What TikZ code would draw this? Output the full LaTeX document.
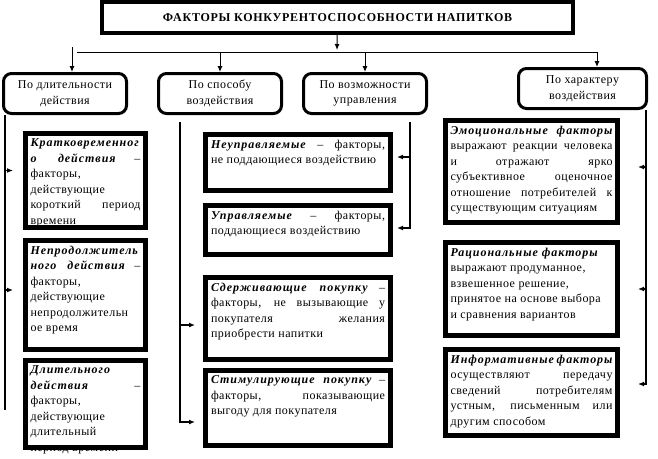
\documentclass[tikz,border=0pt]{standalone}
\usepackage{fontspec}
\setmainfont{Liberation Serif}[LetterSpace=4]
\usetikzlibrary{arrows.meta}
\newcommand{\ftext}[3]{\parbox[c][#2pt][t]{#1pt}{\hyphenpenalty=10000 #3}}
\newcommand{\bi}[1]{{\bfseries\itshape\addfontfeature{LetterSpace=8}#1}}

\begin{document}
\begin{tikzpicture}[x=1pt,y=-1pt,
  >={Latex[length=6pt,width=5pt]}, font=\fontsize{12}{15.5}\selectfont,
  title/.style={draw,line width=3.5pt,minimum width=471pt,minimum height=31pt,inner sep=0pt,font=\fontsize{12}{15}\selectfont\bfseries\addfontfeature{LetterSpace=6}},
  group/.style={draw,line width=3pt,rounded corners=8pt,minimum width=123pt,minimum height=40pt,align=center,inner sep=0pt},
  factor/.style={draw,line width=5pt,inner sep=0pt},
  link/.style={line width=1pt},
  trunk/.style={line width=1.8pt},
]
\useasboundingbox (0,0) rectangle (658,458);

\node[title] (head) at (337.5,17.5) {ФАКТОРЫ КОНКУРЕНТОСПОСОБНОСТИ НАПИТКОВ};

\node[group] (dur)  at (65,93.5)  {По длительности\\действия};
\node[group] (way)  at (220,93.5) {По способу\\воздействия};
\node[group] (ctl)  at (365,93.5) {По возможности\\управления};
\node[group,minimum width=128pt] (kind) at (582.5,88.5) {По характеру\\воздействия};

\node[factor,minimum width=120pt,minimum height=94pt] (shortterm) at (85.5,180.5)
  {\ftext{110}{83}{\bi{Кратковременног}\linebreak \bi{о действия} –\linebreak факторы,\\ действующие\\ короткий период\linebreak времени}};
\node[factor,minimum width=120pt,minimum height=109pt] (midterm) at (85.5,295)
  {\ftext{110}{98}{\bi{Непродолжитель}\linebreak \bi{ного действия} –\linebreak факторы,\\ действующие\\ непродолжительн\\ ое время}};
\node[factor,minimum width=120pt,minimum height=87pt] (longterm) at (85.5,404)
  {\ftext{110}{76}{\bi{Длительного}\\ \bi{действия} –\linebreak факторы,\\ действующие\\ длительный\\ период времени}};

\node[factor,minimum width=185pt,minimum height=56pt] (unmanaged) at (298,162.5)
  {\ftext{174}{45}{\bi{Неуправляемые} – факторы,\linebreak не поддающиеся воздействию}};
\node[factor,minimum width=185pt,minimum height=49pt] (managed) at (298,230)
  {\ftext{174}{38}{\bi{Управляемые} – факторы,\linebreak поддающиеся воздействию}};
\node[factor,minimum width=185pt,minimum height=82pt] (restrain) at (298,318.5)
  {\ftext{174}{71}{\bi{Сдерживающие покупку} –\linebreak факторы, не вызывающие у\linebreak покупателя желания\linebreak приобрести напитки}};
\node[factor,minimum width=185pt,minimum height=75pt] (stimul) at (298,408)
  {\ftext{174}{64}{\bi{Стимулирующие покупку} –\linebreak факторы, показывающие\linebreak выгоду для покупателя}};

\node[factor,minimum width=172pt,minimum height=102pt] (emotion) at (531.5,171.5)
  {\ftext{162}{91}{\bi{Эмоциональные факторы}\linebreak выражают реакции человека\linebreak и отражают ярко\linebreak субъективное оценочное\linebreak отношение потребителей к\linebreak существующим ситуациям}};
\node[factor,minimum width=172pt,minimum height=93pt] (rational) at (531.5,289)
  {\ftext{162}{82}{\bi{Рациональные факторы}\\ выражают продуманное,\\ взвешенное решение,\\ принятое на основе выбора\\ и сравнения вариантов}};
\node[factor,minimum width=172pt,minimum height=86pt] (inform) at (531.5,392.5)
  {\ftext{162}{75}{\bi{Информативные факторы}\linebreak осуществляют передачу\linebreak сведений потребителям\linebreak устным, письменным или\linebreak другим способом}};

\coordinate (hub)  at (337,50);
\coordinate (busL) at (77,52);
\coordinate (busR) at (597,52);
\coordinate (drop) at (72,47);
\coordinate (t1) at (5,410);
\coordinate (t2) at (180,122);
\coordinate (t3) at (410,122);
\coordinate (t4) at (646,110);

\draw[link,->] (head) -- (hub);
\draw[link] (busL) -- (busR);
\draw[link,->] (drop) -- (drop |- dur.north);
\draw[link,->] (way.north |- busL) -- (way.north);
\draw[link,->] (ctl.north |- busL) -- (ctl.north);
\draw[link,->] (busR) -- (busR |- kind.north);

\draw[trunk] (dur.south -| t1) -- (t1);
\draw[trunk,->] ([yshift=10pt]shortterm.west -| t1) -- ([xshift=-10pt,yshift=10pt]shortterm.west);
\draw[trunk,->] ([yshift=5pt]midterm.west -| t1) -- ([xshift=-10pt,yshift=5pt]midterm.west);

\draw[trunk,->] (t2) |- ([xshift=-8pt,yshift=-14pt]stimul.west);
\draw[trunk,->] ([yshift=-6.5pt]restrain.west -| t2) -- ([xshift=-8pt,yshift=-6.5pt]restrain.west);

\draw[trunk,->] (t3) |- ([xshift=4pt,yshift=2pt]managed.east);
\draw[trunk,->] ([yshift=5.5pt]unmanaged.east -| t3) -- ([xshift=4pt,yshift=5.5pt]unmanaged.east);

\draw[trunk,->] (kind.south -| t4) |- ([xshift=18pt,yshift=8.5pt]inform.east);
\draw[trunk,->] ([yshift=4.5pt]emotion.east -| t4) -- ([xshift=18pt,yshift=4.5pt]emotion.east);
\draw[trunk,->] (rational.east -| t4) -- ([xshift=18pt]rational.east);
\end{tikzpicture}
\end{document}
